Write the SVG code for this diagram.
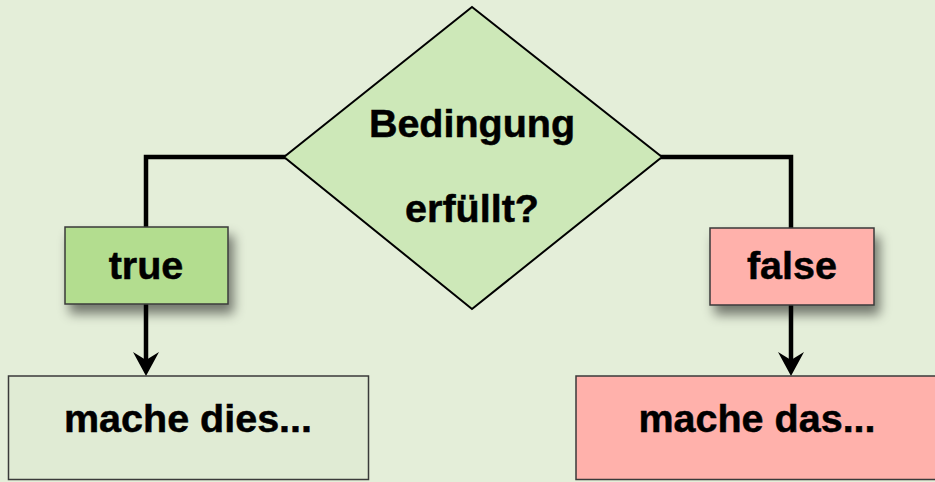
<svg xmlns="http://www.w3.org/2000/svg" width="935" height="482" viewBox="0 0 935 482">
  <defs>
    <filter id="shadow" x="-30%" y="-30%" width="170%" height="190%">
      <feGaussianBlur in="SourceAlpha" stdDeviation="6"/>
      <feOffset dx="5" dy="9" result="b"/>
      <feComponentTransfer><feFuncA type="linear" slope="0.5"/></feComponentTransfer>
      <feMerge><feMergeNode/><feMergeNode in="SourceGraphic"/></feMerge>
    </filter>
    <!-- barbed arrowhead, drawn pointing along +x, anchored at its notch -->
    <marker id="arrow" viewBox="0 0 24 26" refX="8" refY="13" markerWidth="24" markerHeight="26" markerUnits="userSpaceOnUse" orient="auto">
      <path d="M0,0 L8,13 L0,26 L24,13 Z" fill="#000"/>
    </marker>
  </defs>
  <style>
    .bg { fill: #e4eed9; }
    .box { stroke: #3a3a3a; stroke-width: 1.5; }
    .wire { fill: none; stroke: #000; stroke-width: 4.5; stroke-linejoin: miter; }
    .label { font-family: "Liberation Sans", Arial, Helvetica, sans-serif; font-weight: bold; font-size: 39.5px; fill: #000; stroke: #000; stroke-width: 0.5; text-anchor: middle; }
  </style>

  <rect class="bg" x="0" y="0" width="935" height="482"/>

  <g id="connectors">
    <path class="wire" d="M286,157 H146 V229"/>
    <path class="wire" d="M146,304 V360" marker-end="url(#arrow)"/>
    <path class="wire" d="M660,157 H791 V229"/>
    <path class="wire" d="M791,305 V360" marker-end="url(#arrow)"/>
  </g>

  <g id="condition">
    <polygon points="472,7 662,157 472,309 284,157" fill="#cde8b8" stroke="#000" stroke-width="2"/>
    <text class="label" x="472" y="137">Bedingung</text>
    <text class="label" x="472" y="222">erfüllt?</text>
  </g>

  <g id="true-branch">
    <rect class="box" x="65" y="227" width="163" height="77" fill="#b3dd8f" filter="url(#shadow)"/>
    <text class="label" x="146" y="279">true</text>
  </g>

  <g id="false-branch">
    <rect class="box" x="710" y="228" width="164" height="77" fill="#ffb1ab" filter="url(#shadow)"/>
    <text class="label" x="792" y="279">false</text>
  </g>

  <g id="do-this">
    <rect class="box" x="8.5" y="376" width="360" height="103.5" fill="#e0ebd4"/>
    <text class="label" x="188" y="432">mache dies...</text>
  </g>

  <g id="do-that">
    <rect class="box" x="576" y="376" width="370" height="103.5" fill="#ffb1ab"/>
    <text class="label" x="757" y="432">mache das...</text>
  </g>
</svg>
